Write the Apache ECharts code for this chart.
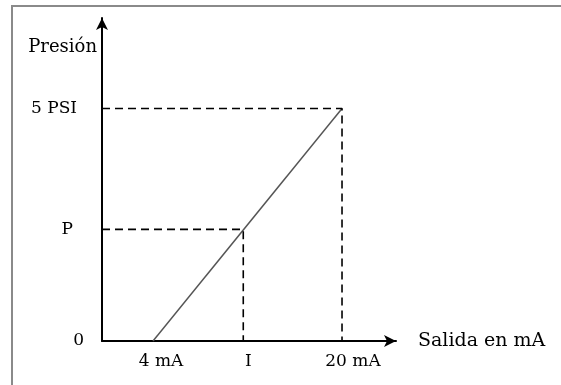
<!DOCTYPE html>
<html>
<head>
<meta charset="utf-8">
<script src="https://cdn.jsdelivr.net/npm/echarts@6/dist/echarts.min.js"></script>
<style>
html,body{margin:0;padding:0;background:#fff;}
#c{width:561px;height:385px;}
</style>
</head>
<body>
<div id="c"></div>
<script>
// ---- data ----
var xTickValues = [4, 11.64, 20];          // 4 mA, I, 20 mA
var xTickLabels = ['4 mA', 'I', '20 mA'];
var yTickValues = [0, 2.4, 5];             // 0, P, 5 PSI
var yTickLabels = ['0', 'P', '5 PSI'];
var lineX = [4, 20];                       // mA
var lineY = [0, 5];                        // PSI
var pointI = 11.64;
var pointP = 2.4;
var axisNames = ['Salida en mA', 'Presión'];

// ---- scale ----
var XMIN = -0.32, XMAX = 24.57, YMIN = 0, YMAX = 6.946;
var FONT = 'DejaVu Serif';

function pairs(xs, ys) { return xs.map(function (x, i) { return [x, ys[i]]; }); }
function nearestIdx(arr, v) {
  var best = 0;
  for (var i = 1; i < arr.length; i++) if (Math.abs(arr[i] - v) < Math.abs(arr[best] - v)) best = i;
  return best;
}
var xRich = ['xa', 'xb', 'xc'];
var yRich = ['ya', 'yb', 'yc'];

var chart = echarts.init(document.getElementById('c'), null, {renderer: 'canvas'});
chart.setOption({
  animation: false,
  backgroundColor: '#fff',
  textStyle: {fontFamily: FONT, color: '#000'},
  graphic: [{
    type: 'rect', silent: true, z: -1,
    shape: {x: 12, y: 6, width: 620, height: 420},
    style: {fill: 'none', stroke: '#8a8a8a', lineWidth: 2}
  }],
  grid: {left: 102, top: 18, right: 165, bottom: 44, containLabel: false},
  xAxis: {
    type: 'value', min: XMIN, max: XMAX,
    splitLine: {show: false},
    axisTick: {show: false},
    axisLine: {show: true, onZero: false, symbol: ['none', 'arrow'], symbolSize: [9, 12],
      lineStyle: {color: '#000', width: 2}},
    axisLabel: {
      customValues: xTickValues, margin: 12,
      fontFamily: FONT, fontSize: 17, color: '#000',
      formatter: function (v) { var i = nearestIdx(xTickValues, v); return '{' + xRich[i] + '|' + xTickLabels[i] + '}'; },
      rich: {
        xa: {fontFamily: FONT, fontSize: 17, color: '#000', padding: [0, 0, 0, 16]},
        xb: {fontFamily: FONT, fontSize: 17, color: '#000', padding: [0, 0, 0, 10]},
        xc: {fontFamily: FONT, fontSize: 17, color: '#000', padding: [0, 0, 0, 22]}
      }
    },
    name: axisNames[0], nameLocation: 'end', nameGap: 22,
    nameTextStyle: {fontFamily: FONT, fontSize: 19, color: '#000', align: 'left', verticalAlign: 'middle'}
  },
  yAxis: {
    type: 'value', min: YMIN, max: YMAX,
    splitLine: {show: false},
    axisTick: {show: false},
    axisLine: {show: true, onZero: false, symbol: ['none', 'arrow'], symbolSize: [9, 12],
      lineStyle: {color: '#000', width: 2}},
    axisLabel: {
      customValues: yTickValues, margin: 8,
      fontFamily: FONT, fontSize: 17, color: '#000',
      formatter: function (v) { var i = nearestIdx(yTickValues, v); return '{' + yRich[i] + '|' + yTickLabels[i] + '}'; },
      rich: {
        ya: {fontFamily: FONT, fontSize: 17, color: '#000', padding: [0, 10, 0, 0]},
        yb: {fontFamily: FONT, fontSize: 17, color: '#000', padding: [0, 21, 0, 0]},
        yc: {fontFamily: FONT, fontSize: 17, color: '#000', padding: [0, 17, 0, 0]}
      }
    },
    name: axisNames[1], nameLocation: 'end', nameGap: -29,
    nameTextStyle: {fontFamily: FONT, fontSize: 18, color: '#000', align: 'right', verticalAlign: 'middle', padding: [0, 5, 0, 0]}
  },
  series: [
    {
      type: 'line', data: pairs(lineX, lineY), symbol: 'none', silent: true,
      lineStyle: {color: '#555', width: 1.5}
    },
    {
      type: 'line', data: [[XMIN, lineY[1]], [lineX[1], lineY[1]], [lineX[1], YMIN]], symbol: 'none', silent: true,
      lineStyle: {color: '#000', width: 1.6, type: [8, 5]}
    },
    {
      type: 'line', data: [[XMIN, pointP], [pointI, pointP], [pointI, YMIN]], symbol: 'none', silent: true,
      lineStyle: {color: '#000', width: 1.6, type: [8, 5]}
    }
  ]
});
</script>
</body>
</html>
